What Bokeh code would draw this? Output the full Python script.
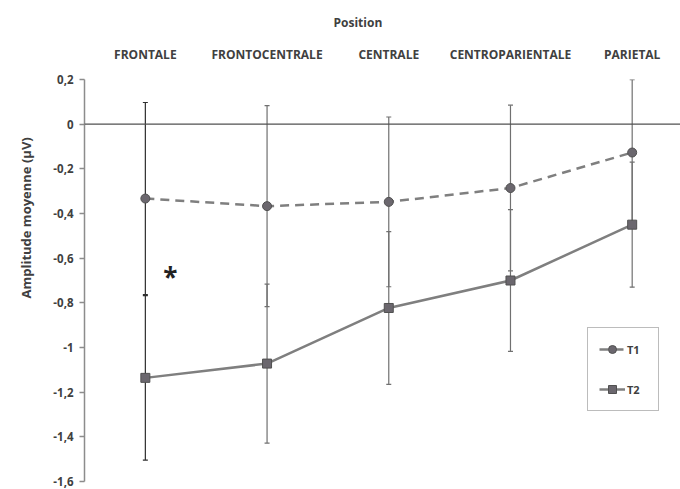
from bokeh.plotting import figure
from bokeh.models import (Range1d, FixedTicker, Whisker, TeeHead, ColumnDataSource,
                          Span, Legend, LegendItem, Title, Label, CustomJSTickFormatter)
from bokeh.embed import file_html
from bokeh.resources import INLINE

# ---- data ----
categories = ["FRONTALE", "FRONTOCENTRALE", "CENTRALE", "CENTROPARIENTALE", "PARIETAL"]
t1_mean = [-0.333, -0.367, -0.348, -0.286, -0.127]
t1_err = [0.430, 0.450, 0.380, 0.371, 0.326]
t2_mean = [-1.136, -1.072, -0.823, -0.700, -0.450]
t2_err = [0.368, 0.356, 0.342, 0.317, 0.280]
y_ticks = [0.2, 0.0, -0.2, -0.4, -0.6, -0.8, -1.0, -1.2, -1.4, -1.6]
y_tick_labels = ["0,2", "0", "-0,2", "-0,4", "-0,6", "-0,8", "-1", "-1,2", "-1,4", "-1,6"]
x_title = "Position"
y_title = "Amplitude moyenne (\u00b5V)"
star_category = "FRONTALE"
star_value = -0.686

# ---- styles ----
FONT = "Open Sans"
TXT = "#404040"
LINE = "#7f7f7f"
MFILL = "#6b676e"
MEDGE = "#505050"
err_colors = ["#2e2e2e", "#707070", "#707070", "#707070", "#707070"]

xpos = [i + 0.5 for i in range(len(categories))]

src = ColumnDataSource(dict(
    x=xpos, t1=t1_mean, t2=t2_mean,
    t1_up=[m + e for m, e in zip(t1_mean, t1_err)],
    t1_lo=[m - e for m, e in zip(t1_mean, t1_err)],
    t2_up=[m + e for m, e in zip(t2_mean, t2_err)],
    t2_lo=[m - e for m, e in zip(t2_mean, t2_err)],
    ecol=err_colors,
))

p = figure(width=680, height=489, x_range=Range1d(0, 4.897), y_range=Range1d(-1.6, 0.2),
           output_backend="svg", toolbar_location=None, x_axis_location="above",
           min_border_left=84, min_border_top=75, min_border_right=0, min_border_bottom=8)
p.outline_line_color = None
p.grid.visible = False
p.background_fill_color = "white"

# x axis (top, labels only)
xa = p.xaxis[0]
xa.ticker = FixedTicker(ticks=xpos)
xa.formatter = CustomJSTickFormatter(args=dict(cats=categories),
                                     code="return cats[Math.round(tick - 0.5)];")
xa.axis_line_color = None
xa.major_tick_line_color = None
xa.minor_tick_line_color = None
xa.major_label_text_font = FONT
xa.major_label_text_font_style = "bold"
xa.major_label_text_font_size = "12px"
xa.major_label_text_color = TXT
xa.major_label_standoff = 11

# y axis
ya = p.yaxis[0]
ya.ticker = FixedTicker(ticks=y_ticks)
ya.formatter = CustomJSTickFormatter(args=dict(yt=y_ticks, labs=y_tick_labels), code="""
let best = 0, bd = 1e9;
for (let i = 0; i < yt.length; i++) { const d = Math.abs(yt[i] - tick); if (d < bd) { bd = d; best = i; } }
return labs[best];""")
ya.axis_line_color = "#8c8c8c"
ya.axis_line_width = 1.5
ya.major_tick_line_color = "#8c8c8c"
ya.major_tick_line_width = 1.5
ya.major_tick_out = 5
ya.major_tick_in = 0
ya.minor_tick_line_color = None
ya.major_label_text_font = FONT
ya.major_label_text_font_style = "bold"
ya.major_label_text_font_size = "11.5px"
ya.major_label_text_color = TXT
ya.major_label_standoff = 6

p.add_layout(Title(text=x_title, align="left", offset=249, text_font=FONT, text_font_style="bold",
                   text_font_size="12px", text_color=TXT, standoff=23), "above")

# y-axis title as a side title, shifted upward like the original
p.add_layout(Title(text=y_title, align="left", offset=183, text_font=FONT, text_font_style="bold",
                   text_font_size="13px", text_color=TXT, standoff=28,
                   vertical_align="top"), "left")

# zero line
p.add_layout(Span(location=0, dimension="width", line_color="#505050", line_width=1.2))

# error bars
for up, lo in (("t1_up", "t1_lo"), ("t2_up", "t2_lo")):
    w = Whisker(base="x", upper=up, lower=lo, source=src, line_color="ecol", line_width=1.2,
                upper_head=TeeHead(size=5, line_color="ecol", line_width=1.2),
                lower_head=TeeHead(size=5, line_color="ecol", line_width=1.2))
    p.add_layout(w)

l1 = p.line("x", "t1", source=src, line_color=LINE, line_width=2.5, line_dash="9 6")
c1 = p.scatter("x", "t1", source=src, marker="circle", size=9, fill_color=MFILL,
               line_color=MEDGE, line_width=1)
l2 = p.line("x", "t2", source=src, line_color=LINE, line_width=2.5)
s2 = p.scatter("x", "t2", source=src, marker="square", size=9, fill_color=MFILL,
               line_color=MEDGE, line_width=1)

star = Label(x=xpos[categories.index(star_category)], y=star_value, x_offset=25, text="*",
             text_font=FONT, text_font_style="bold", text_font_size="26px",
             text_color="#222222", text_align="center", text_baseline="middle")
p.add_layout(star)

legend = Legend(items=[LegendItem(label="T1", renderers=[l1, c1]),
                       LegendItem(label="T2", renderers=[l2, s2])],
                location=(503, 70), orientation="vertical",
                border_line_color="#7a7a7a", border_line_width=1.2,
                background_fill_color="white", background_fill_alpha=1,
                padding=11, spacing=20, glyph_width=26, glyph_height=20,
                label_standoff=2, label_text_font=FONT, label_text_font_style="bold",
                label_text_font_size="11px", label_text_color=TXT, margin=0)
p.add_layout(legend, "center")

open("out.html", "w").write(file_html(p, INLINE))
